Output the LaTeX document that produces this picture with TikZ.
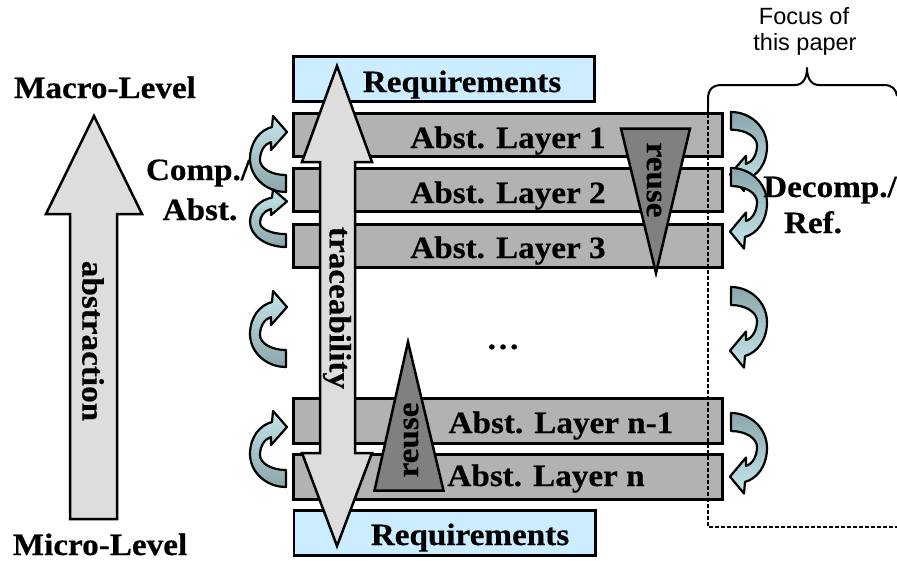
\documentclass[tikz,border=0pt]{standalone}
\usepackage{fontspec}
\setmainfont{Liberation Serif}[FakeStretch=1.07, BoldFeatures={FakeBold=0.5}]
\newfontfamily\sansf{Liberation Sans}
\definecolor{reqblue}{RGB}{204,236,255}
\definecolor{layergray}{RGB}{178,178,178}
\definecolor{arrowgray}{RGB}{221,221,221}
\definecolor{reusegray}{RGB}{128,128,128}
\definecolor{clight}{RGB}{196,230,236}
\definecolor{cdark}{RGB}{138,166,170}
\newcommand\curvarr[3]{%
  \begin{scope}[shift={#1},#2]
    \draw[carrow,#3] (0,0) .. controls (-20,0) and (-36,-15) .. (-36,-33)
      .. controls (-36,-50) and (-26,-62) .. (-14,-65) -- (-13,-76) -- (1,-60)
      -- (-15,-42) -- (-15,-50) .. controls (-22,-48) and (-26,-40) .. (-26,-32)
      .. controls (-26,-24) and (-15,-17) .. (0,-17) -- cycle;
  \end{scope}}
\begin{document}
\begin{tikzpicture}[x=1pt,y=-1pt,
  lbl/.style={font=\fontsize{31}{36}\selectfont\bfseries, inner sep=0pt},
  focuslbl/.style={font=\sansf\fontsize{23.5}{26}\selectfont, inner sep=0pt},
  reqbox/.style={draw, line width=2.5pt, fill=reqblue},
  layerbox/.style={draw, line width=2.5pt, fill=layergray},
  bigarrow/.style={draw, line width=2.5pt, fill=arrowgray, line join=miter},
  reusetri/.style={draw, line width=2.5pt, fill=reusegray, line join=miter},
  carrow/.style={draw, line width=2.2pt, line join=round},
  focusline/.style={line width=1.5pt, dash pattern=on 3.5pt off 2.5pt},
  bracestyle/.style={line width=2pt, line join=round}]
\useasboundingbox (0,0) rectangle (897,560);
% requirement boxes and layers
\draw[reqbox] (293.5,56.5) rectangle (594.5,101.5);
\draw[reqbox] (294,510.5) rectangle (595.5,555.5);
\draw[layerbox] (293.5,113.5) rectangle (722.5,156.5);
\draw[layerbox] (293.5,168.5) rectangle (722.5,211.5);
\draw[layerbox] (293.5,224.5) rectangle (722.5,267.5);
\draw[layerbox] (293.5,398.5) rectangle (722.5,443.5);
\draw[layerbox] (293.5,454.5) rectangle (722.5,499.5);
% abstraction arrow
\draw[bigarrow] (94,116) -- (142,214) -- (117,214) -- (117,519) -- (70,519)
  -- (70,214) -- (46,214) -- cycle;
% traceability arrow
\draw[bigarrow] (337,66) -- (372,162) -- (355,162) -- (355,453) -- (372,453)
  -- (337,546) -- (302,453) -- (320,453) -- (320,162) -- (302,162) -- cycle;
% reuse triangles
\draw[reusetri] (621,128.5) -- (690,128.5) -- (656,273) -- cycle;
\draw[reusetri] (408,342) -- (443.5,490.5) -- (374.5,490.5) -- cycle;
% curved arrows left (composition / abstraction)
\curvarr{(286,192)}{}{top color=clight, bottom color=cdark}
\curvarr{(286,247)}{yscale=0.76}{top color=clight, bottom color=cdark}
\curvarr{(286,367)}{}{top color=clight, bottom color=cdark}
\curvarr{(286,487)}{}{top color=clight, bottom color=cdark}
% curved arrows right (decomposition / refinement)
\curvarr{(731,112)}{rotate=180,yscale=1.04}{top color=cdark, bottom color=clight}
\curvarr{(731,168)}{rotate=180,yscale=1.06}{top color=cdark, bottom color=clight}
\curvarr{(731,287)}{rotate=180,yscale=1.06}{top color=cdark, bottom color=clight}
\curvarr{(731,413)}{rotate=180,yscale=1.06}{top color=cdark, bottom color=clight}
% texts
\node[lbl, anchor=base] (macro) at (105,98) {Macro-Level};
\node[lbl, anchor=base] (micro) at (100,555) {Micro-Level};
\node[lbl, anchor=base] (reqT) at (462,92) {Requirements};
\node[lbl, anchor=base] (reqB) at (470,545) {Requirements};
\node[lbl, anchor=base] (lay1) at (508,148) {Abst. Layer 1};
\node[lbl, anchor=base] (lay2) at (508,203) {Abst. Layer 2};
\node[lbl, anchor=base] (lay3) at (508,258) {Abst. Layer 3};
\node[lbl, anchor=base] (layn1) at (561,433) {Abst. Layer n-1};
\node[lbl, anchor=base] (layn) at (546,486) {Abst. Layer n};
\node[lbl, anchor=base] (dots) at (503,349) {…};
\node[lbl, anchor=base] (comp) at (198,180) {Comp./};
\node[lbl, anchor=base] (abst) at (200,220) {Abst.};
\node[lbl, anchor=base] (decomp) at (830,197) {Decomp./};
\node[lbl, anchor=base] (ref) at (813,233) {Ref.};
\node[lbl, rotate=-90] (abstr) at (93,341) {abstraction};
\node[lbl, rotate=-90] (trace) at (337,308) {traceability};
\node[lbl, rotate=-90] (reuseT) at (654,180) {reuse};
\node[lbl, rotate=90] (reuseB) at (411,440) {reuse};
\node[focuslbl, anchor=base] (focus1) at (804,24) {Focus of};
\node[focuslbl, anchor=base] (focus2) at (805,50) {this paper};
% focus region
\draw[focusline] (708,108) -- (708,527) -- (897,527);
\draw[bracestyle] (708,108) -- (708,99) .. controls (708,89) and (713,85) .. (722,85)
  -- (795,85) .. controls (803,85) and (807,78) .. (807,68)
  .. controls (807,78) and (811,85) .. (819,85) -- (884,85)
  .. controls (892,85) and (896,89) .. (897,96);
\end{tikzpicture}
\end{document}
